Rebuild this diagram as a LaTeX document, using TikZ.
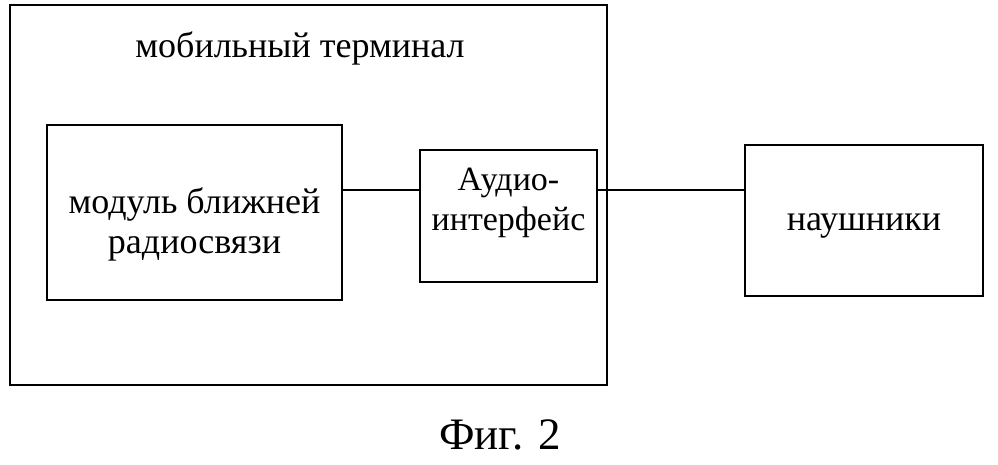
\documentclass[tikz,border=0pt]{standalone}
\usepackage{fontspec}
\setmainfont{Liberation Serif}
\begin{document}
\begin{tikzpicture}[x=1pt,y=-1pt,
  box/.style={draw,line width=2pt,inner sep=0pt},
  txt/.style={font=\fontsize{36}{40}\selectfont,align=center}]
\useasboundingbox (0,0) rectangle (998,464);
\node[box,minimum width=597pt,minimum height=380pt] (term) at (308.5,195) {};
\node[txt] (tl) at (300,48) {мобильный терминал};
\node[box,minimum width=295pt,minimum height=175pt] (mod) at (194.5,212.5) {};
\node[txt] (modt) at (194.5,224) {модуль ближней\\радиосвязи};
\node[box,minimum width=177pt,minimum height=132pt] (aud) at (508.5,216) {};
\node[txt,font=\fontsize{34}{40}\selectfont] (audt) at (508.5,203) {Аудио-\\интерфейс};
\node[box,txt,minimum width=238pt,minimum height=151pt] (hp) at (864,220.5) {};
\node[txt] (hpt) at (864,226) {наушники};
\draw[line width=1.6pt] (mod.east |- 0,190) -- (aud.west |- 0,190);
\draw[line width=1.6pt] (aud.east |- 0,190) -- (hp.west |- 0,190);
\node[font=\fontsize{45}{50}\selectfont] (fig) at (500,435) {Фиг. 2};
\end{tikzpicture}
\end{document}
